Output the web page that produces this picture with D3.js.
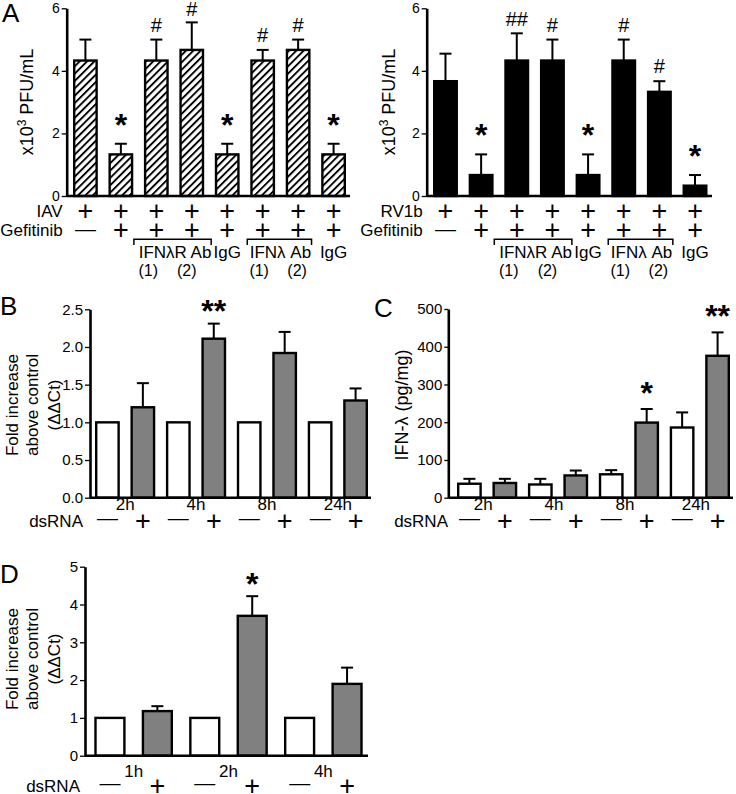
<!DOCTYPE html>
<html><head><meta charset="utf-8">
<script src="https://cdn.jsdelivr.net/npm/d3@7"></script>
<style>body{margin:0;background:#fff} svg text{font-family:"Liberation Sans",Arial,sans-serif;fill:#000}</style>
</head><body><svg id="fig" width="736" height="794" style="background:#fff"></svg>
<script>
// ---------- DATA ----------
// Panel A (IAV, hatched) and (RV1b, black): 8 conditions each
const aKeys = ["b1","b2","b3","b4","b5","b6","b7","b8"];
const iavMean = [4.33, 1.33, 4.33, 4.67, 1.33, 4.33, 4.67, 1.33];
const iavSem  = [0.67, 0.34, 0.67, 0.88, 0.34, 0.34, 0.33, 0.34];
const iavSig  = ["", "*", "#", "#", "*", "#", "#", "*"];
const rvMean  = [3.67, 0.67, 4.33, 4.33, 0.67, 4.33, 3.33, 0.33];
const rvSem   = [0.88, 0.66, 0.87, 0.67, 0.66, 0.67, 0.34, 0.34];
const rvSig   = ["", "*", "##", "#", "*", "#", "#", "*"];
const virusRow = ["+", "+", "+", "+", "+", "+", "+", "+"];
const gefRow   = ["—", "+", "+", "+", "+", "+", "+", "+"];
const aTicks = [0, 2, 4, 6];

// Panel B (qPCR, fold increase)
const bTimes = ["2h", "4h", "8h", "24h"];
const bCtrl = [1, 1, 1, 1];
const bDs = [1.2, 2.11, 1.92, 1.29];
const bDsSem = [0.32, 0.2, 0.28, 0.16];
const bSig = ["", "**", "", ""];
const bTicks = [0, 0.5, 1.0, 1.5, 2.0, 2.5];

// Panel C (IFN-λ protein, pg/mg)
const cTimes = ["2h", "4h", "8h", "24h"];
const cCtrl = [37, 35, 62, 186];
const cCtrlSem = [13, 15, 11, 40];
const cDs = [39, 59, 199, 376];
const cDsSem = [11, 13, 36, 62];
const cSig = ["", "", "*", "**"];
const cTicks = [0, 100, 200, 300, 400, 500];

// Panel D (qPCR, fold increase)
const dTimes = ["1h", "2h", "4h"];
const dCtrl = [1, 1, 1];
const dDs = [1.18, 3.7, 1.9];
const dDsSem = [0.13, 0.52, 0.43];
const dSig = ["", "*", ""];
const dTicks = [0, 1, 2, 3, 4, 5];

const dsRow = ["—", "+"];

// ---------- DRAWING ----------
const svg = d3.select("#fig");
svg.append("rect").attr("width", 736).attr("height", 794).attr("fill", "#fff");
const defs = svg.append("defs");
const pat = defs.append("pattern").attr("id", "hatch").attr("patternUnits", "userSpaceOnUse")
  .attr("width", 5.2).attr("height", 5.2).attr("patternTransform", "rotate(45)");
pat.append("rect").attr("width", 5.2).attr("height", 5.2).attr("fill", "#fff");
pat.append("rect").attr("width", 1.9).attr("height", 5.2).attr("fill", "#000");

const GREY = "#808080";
const PLUS_FS = 27, DASH_FS = 21;

function txt(g, x, y, s, fs, anchor, extra) {
  const t = g.append("text").attr("x", x).attr("y", y).attr("font-size", fs)
    .attr("text-anchor", anchor || "middle").text(s);
  if (extra) extra(t);
  return t;
}
// place a symbol so its glyph centre sits at cy
function sym(g, cx, cy, s, fs) {
  let k = 0.34;
  if (s === "—") k = 0.27;
  if (s.indexOf("*") >= 0) k = 0.5;
  if (s.indexOf("#") >= 0) k = 0.36;
  const t = txt(g, cx, cy + k * fs, s, fs, "middle");
  if (s.indexOf("*") >= 0) t.attr("font-weight", "bold");
  return t;
}

function yAxis(g, y, x0, ticks, fmt, fs, tlen) {
  const ax = d3.axisLeft(y).tickValues(ticks).tickSize(tlen).tickSizeOuter(0).tickPadding(2).tickFormat(fmt);
  const a = g.append("g").attr("transform", `translate(${x0},0)`).call(ax);
  a.select(".domain").attr("stroke", "#000").attr("stroke-width", 2.6);
  a.selectAll(".tick line").attr("stroke", "#000").attr("stroke-width", 1.3);
  a.selectAll(".tick text").attr("font-size", fs).attr("fill", "#000")
    .attr("font-family", '"Liberation Sans", Arial, sans-serif');
  return a;
}

function barPanel(o) {
  const g = svg.append("g");
  const y = d3.scaleLinear().domain(o.yDomain).range(o.yRange);
  const x = d3.scaleBand().domain(o.keys).range(o.bandRange).paddingInner(o.padInner).paddingOuter(0);
  const bw = x.bandwidth();
  const eb = o.bars.filter(d => d.sem > 0);
  g.selectAll("line.err").data(eb).join("line")
    .attr("x1", d => x(d.key) + bw / 2).attr("x2", d => x(d.key) + bw / 2)
    .attr("y1", d => y(d.mean)).attr("y2", d => y(d.mean + d.sem))
    .attr("stroke", "#000").attr("stroke-width", 2);
  g.selectAll("line.cap").data(eb).join("line")
    .attr("x1", d => x(d.key) + bw / 2 - 6).attr("x2", d => x(d.key) + bw / 2 + 6)
    .attr("y1", d => y(d.mean + d.sem)).attr("y2", d => y(d.mean + d.sem))
    .attr("stroke", "#000").attr("stroke-width", 2);
  g.selectAll("rect.bar").data(o.bars).join("rect")
    .attr("x", d => x(d.key) + 1.2).attr("width", bw - 2.4)
    .attr("y", d => y(d.mean)).attr("height", d => y(0) - y(d.mean))
    .attr("fill", d => d.fill).attr("stroke", "#000").attr("stroke-width", 2.4);
  o.bars.forEach(d => {
    if (!d.sig) return;
    const top = y(d.mean + d.sem);
    const isStar = d.sig.indexOf("*") >= 0;
    const off = isStar ? o.starGap : o.hashGap;
    const cy = Math.max(top - off, o.minSigY || 0);
    sym(g, x(d.key) + bw / 2, cy, d.sig, isStar ? o.starFs : o.hashFs);
  });
  g.append("line").attr("x1", o.axisX).attr("x2", o.xEnd).attr("y1", y(0)).attr("y2", y(0))
    .attr("stroke", "#000").attr("stroke-width", 2.6);
  yAxis(g, y, o.axisX, o.ticks, o.fmt, o.tickFs, o.tickLen);
  return { g, x, y, bw };
}

// ----- Panel A -----
function panelA(means, sems, sigs, fill, virus, cfg) {
  const bars = aKeys.map((k, i) => ({ key: k, mean: means[i], sem: sems[i], sig: sigs[i], fill }));
  const p = barPanel({
    keys: aKeys, bars, yDomain: [0, 6], yRange: [196, 8.3], bandRange: cfg.band, padInner: 0.3,
    axisX: cfg.axisX, xEnd: cfg.xEnd, ticks: aTicks, fmt: d3.format("d"), tickFs: 14, tickLen: 5,
    starGap: 24, hashGap: 15, starFs: 32, hashFs: 20, minSigY: 9
  });
  const { g, x, bw } = p;
  const cx = i => x(aKeys[i]) + bw / 2;
  const yl = g.append("text").attr("transform", `translate(${cfg.ylx},102) rotate(-90)`)
    .attr("text-anchor", "middle").attr("font-size", 18);
  yl.append("tspan").text("x10");
  yl.append("tspan").attr("font-size", 12).attr("dy", -7).text("3");
  yl.append("tspan").attr("dy", 7).text(" PFU/mL");
  txt(g, cfg.axisX - 4, 217, virus, 17, "end");
  txt(g, cfg.axisX - 4, 236, "Gefitinib", 17, "end");
  virusRow.forEach((s, i) => sym(g, cx(i), 211, s, s === "—" ? DASH_FS : PLUS_FS));
  gefRow.forEach((s, i) => sym(g, cx(i), 230, s, s === "—" ? DASH_FS : PLUS_FS));
  const br = (x1, x2) => g.append("path").attr("d", `M${x1},245V239.3H${x2}V245`)
    .attr("fill", "none").attr("stroke", "#000").attr("stroke-width", 1.5);
  br(x(aKeys[2]) - 10, x(aKeys[3]) + bw + 7);
  br(x(aKeys[5]) - 3, x(aKeys[6]) + bw + 1);
  txt(g, (cx(2) + cx(3)) / 2 + 1, 258, "IFNλR Ab", 17);
  txt(g, cx(4), 258, "IgG", 17);
  txt(g, (cx(5) + cx(6)) / 2, 258, "IFNλ Ab", 17);
  txt(g, cx(7), 258, "IgG", 17);
  txt(g, cx(2) - 8, 276, "(1)", 16);
  txt(g, cx(3) - 5, 276, "(2)", 16);
  txt(g, cx(5) - 3.5, 276, "(1)", 16);
  txt(g, cx(6) - 1, 276, "(2)", 16);
}
panelA(iavMean, iavSem, iavSig, "url(#hatch)", "IAV", { band: [73, 346], axisX: 66.7, xEnd: 350, ylx: 33 });
panelA(rvMean, rvSem, rvSig, "#000", "RV1b", { band: [433, 707.5], axisX: 426.7, xEnd: 712, ylx: 395 });

// ----- paired panels (B, C, D) -----
function pairPanel(o) {
  const keys = [];
  const bars = [];
  o.times.forEach((t, i) => {
    keys.push(t + "-", t + "+");
    bars.push({ key: t + "-", mean: o.ctrl[i], sem: o.ctrlSem ? o.ctrlSem[i] : 0, sig: "", fill: "#fff" });
    bars.push({ key: t + "+", mean: o.ds[i], sem: o.dsSem[i], sig: o.sig[i], fill: GREY });
  });
  const p = barPanel({
    keys, bars, yDomain: o.yDomain, yRange: o.yRange, bandRange: o.band, padInner: o.padInner,
    axisX: o.axisX, xEnd: o.xEnd, ticks: o.ticks, fmt: o.fmt, tickFs: 15, tickLen: o.tickLen,
    starGap: o.starGap, hashGap: 20, starFs: 32, hashFs: 20
  });
  const { g, x, bw } = p;
  o.times.forEach((t, i) => {
    const c1 = x(t + "-") + bw / 2, c2 = x(t + "+") + bw / 2;
    txt(g, (c1 + c2) / 2 + (o.timeShift || 0), o.timeY, t, 17);
    sym(g, c1, o.dsY - 1.5, dsRow[0], DASH_FS);
    sym(g, c2, o.dsY, dsRow[1], PLUS_FS);
  });
  txt(g, o.dsX, o.dsY + 6, "dsRNA", 17, "end");
  return p;
}

function foldLabel(g, cy) {
  const lines = [["Fold increase", 18], ["above control", 38], ["(ΔΔCt)", 59.5]];
  lines.forEach(([s, bx]) => g.append("text").attr("transform", `translate(${bx},${cy}) rotate(-90)`)
    .attr("text-anchor", "middle").attr("font-size", 17).text(s));
}

const pB = pairPanel({
  times: bTimes, ctrl: bCtrl, ds: bDs, dsSem: bDsSem, sig: bSig,
  yDomain: [0, 2.5], yRange: [497.7, 309.3], band: [95, 368], padInner: 0.3,
  axisX: 90, xEnd: 371, ticks: bTicks, fmt: d3.format(".1f"), tickLen: 5,
  starGap: 18, timeY: 510, dsY: 521, dsX: 83
});
foldLabel(pB.g, 405);

const pC = pairPanel({
  times: cTimes, ctrl: cCtrl, ctrlSem: cCtrlSem, ds: cDs, dsSem: cDsSem, sig: cSig,
  yDomain: [0, 500], yRange: [497.7, 309], band: [457, 730], padInner: 0.3,
  axisX: 448.3, xEnd: 733, ticks: cTicks, fmt: d3.format("d"), tickLen: 4,
  starGap: 21, timeY: 510, dsY: 521, dsX: 448, timeShift: -4
});
pC.g.append("text").attr("transform", "translate(408,405) rotate(-90)")
  .attr("text-anchor", "middle").attr("font-size", 18).text("IFN-λ (pg/mg)");

const pD = pairPanel({
  times: dTimes, ctrl: dCtrl, ds: dDs, dsSem: dDsSem, sig: dSig,
  yDomain: [0, 5], yRange: [755.7, 566.7], band: [94.3, 362.7], padInner: 0.34,
  axisX: 85, xEnd: 368, ticks: dTicks, fmt: d3.format("d"), tickLen: 5,
  starGap: 17, timeY: 777, dsY: 785.5, dsX: 80
});
foldLabel(pD.g, 659);

[["A", 2, 22], ["B", 0, 315], ["C", 374, 317], ["D", 0, 583]].forEach(([s, x, y]) =>
  txt(svg, x, y, s, 26, "start"));
</script>
</body></html>
